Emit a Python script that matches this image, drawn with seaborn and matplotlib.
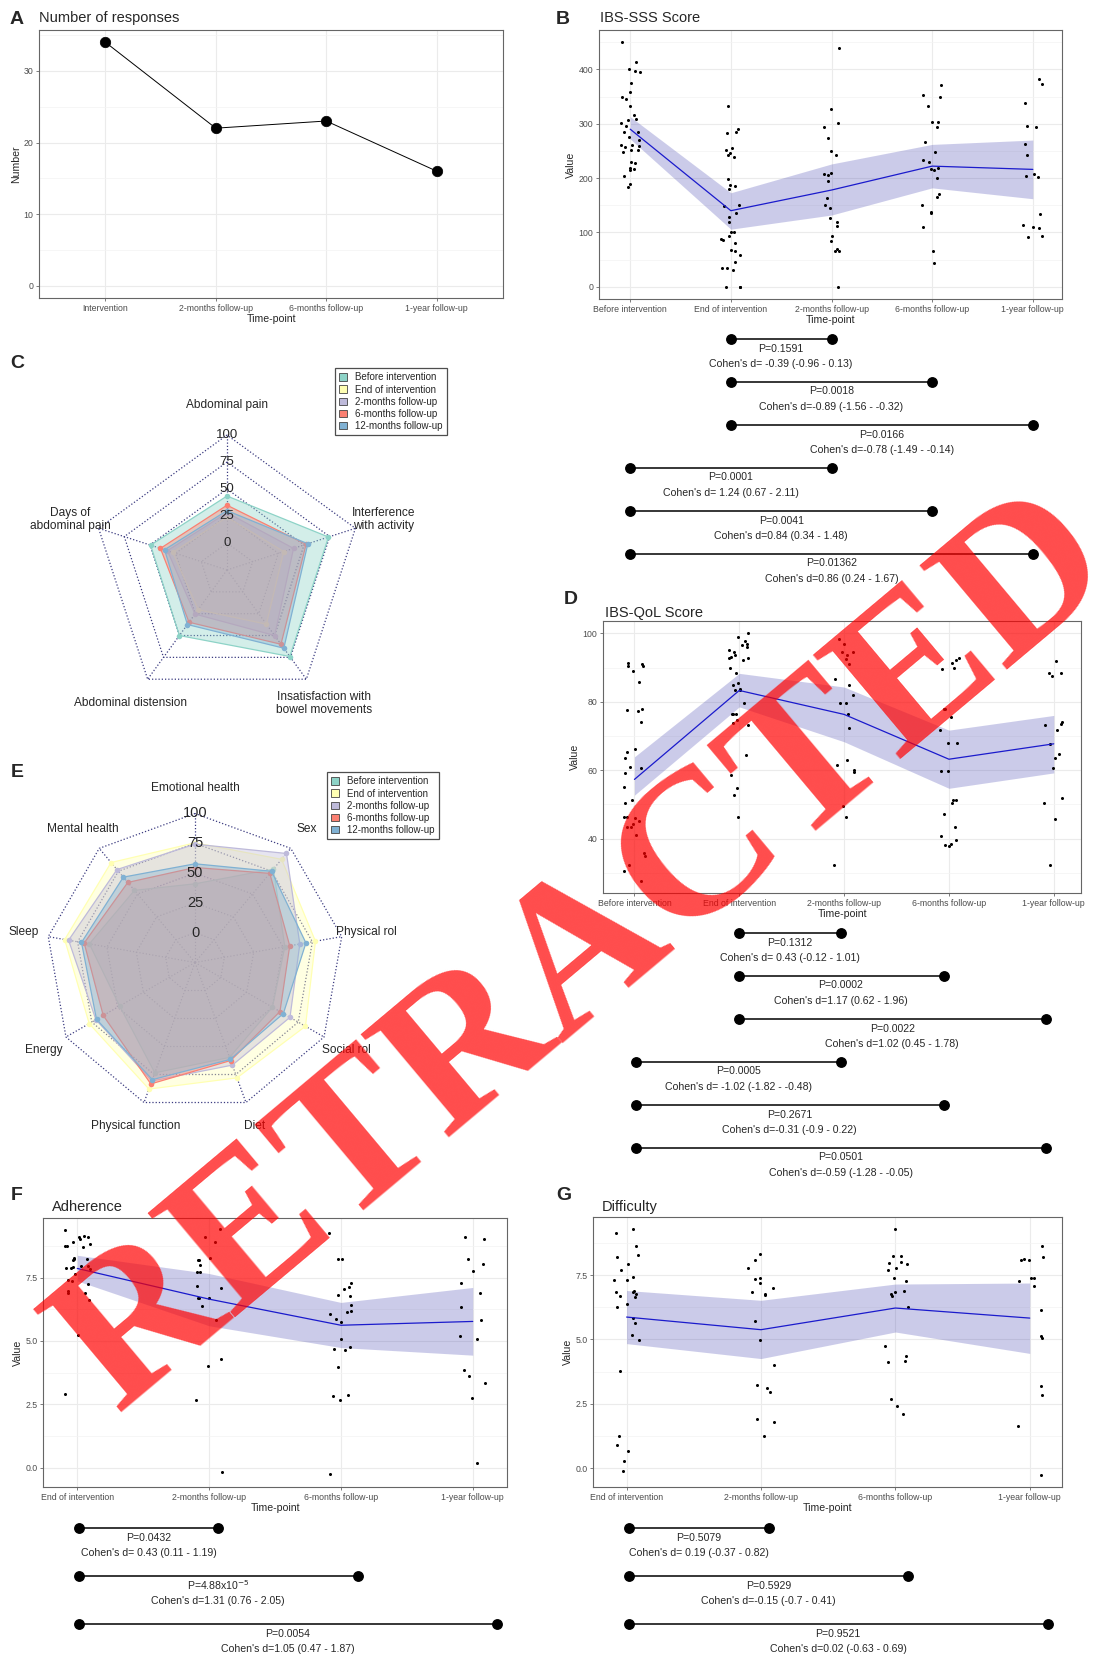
import numpy as np
import pandas as pd
import matplotlib
matplotlib.use("Agg")
import matplotlib.pyplot as plt
from matplotlib.patches import Patch
import seaborn as sns

sns.set_theme(style="white")
plt.rcParams['font.family'] = ['Liberation Sans', 'DejaVu Sans']
np.random.seed(7)

W, H = 1099, 1659

# ---------------- data ----------------
resp_labels = ["Intervention", "2-months follow-up", "6-months follow-up", "1-year follow-up"]
resp_n = [34, 22, 23, 16]

time5 = ["Before intervention", "End of intervention", "2-months follow-up",
         "6-months follow-up", "1-year follow-up"]
time4 = ["End of intervention", "2-months follow-up", "6-months follow-up", "1-year follow-up"]

# IBS-SSS
sss_before = [450, 413, 400, 397, 395, 375, 359, 350, 346, 333, 317, 309, 307, 302, 296, 285, 284,
              275, 270, 261, 260, 259, 258, 252, 251, 248, 229, 227, 217, 215, 204, 190, 183, 218]
sss_end = [333, 290, 284, 283, 255, 252, 247, 242, 238, 198, 187, 185, 179, 150, 148, 135, 128,
           120, 100, 100, 94, 88, 86, 80, 67, 66, 58, 45, 34, 34, 30, 0, 0, 0]
sss_2m = [440, 328, 301, 294, 274, 250, 243, 210, 208, 206, 194, 164, 151, 145, 127, 120, 112,
          94, 85, 69, 66, 66, 0]
sss_6m = [371, 352, 350, 333, 303, 303, 294, 266, 248, 233, 229, 218, 216, 215, 201, 170, 166,
          150, 137, 135, 110, 65, 44]
sss_1y = [383, 374, 338, 295, 294, 263, 243, 208, 204, 202, 133, 113, 110, 109, 93, 92]
sss_mean = [290, 140, 178, 222, 216]
sss_lo = [272, 106, 132, 182, 162]
sss_hi = [313, 173, 226, 262, 270]

# IBS-QoL
qol_before = [91.3, 90.9, 90.5, 90.5, 89, 85.9, 78, 77.5, 77.2, 74, 66.1, 65.3, 63.7, 60.9, 60.5,
              59.1, 55.1, 51.3, 50.5, 46.4, 46.2, 46, 45, 44.2, 43.3, 43.3, 41, 35.7, 34.8, 32.3,
              30.4, 27.7]
qol_end = [100, 99, 97.7, 96.9, 96.6, 95.9, 95.1, 94.5, 93.7, 93, 92.8, 92.7, 92.2, 89.9, 88.4,
           85.4, 85, 83.6, 83.5, 83.3, 79.6, 76.5, 76.5, 76.3, 74.6, 73.9, 73.1, 64.5, 58.5, 54.8,
           52.8, 46.4]
qol_2m = [98.2, 96.9, 94.5, 94.5, 93.8, 92.5, 91.1, 86.7, 85, 81.9, 79.6, 79.6, 76.3, 72.4, 63,
          61.5, 60, 59.4, 49.5, 46.4, 32.3]
qol_6m = [92.8, 92.2, 91.3, 89.8, 89.6, 78, 78, 75.5, 71.7, 67.8, 67.8, 59.8, 59.8, 51.3, 51.3,
          50.5, 47.2, 43.3, 40.9, 39.5, 38.4, 38.2, 37.9]
qol_1y = [91.8, 88.3, 88.3, 87.4, 74, 73.4, 73.1, 71.7, 67.7, 64.6, 63.7, 60.6, 52, 50.5, 45.6, 32.3]
qol_mean = [57.3, 83.3, 76.3, 63.2, 67.7]
qol_lo = [52.7, 78.5, 68.3, 54.7, 59.2]
qol_hi = [63.9, 88.3, 84.3, 71.7, 76]

# Adherence
adh_end = [9.37, 9.15, 9.12, 9.12, 9.04, 8.92, 8.82, 8.75, 8.75, 8.71, 8.29, 8.25, 8.23, 8.2, 7.94,
           7.94, 7.9, 7.88, 7.86, 7.83, 7.63, 7.4, 7.35, 7.23, 6.98, 6.91, 6.91, 6.62, 5.24, 2.9]
adh_2m = [9.41, 9.09, 8.91, 8.27, 8.2, 8.2, 7.98, 7.73, 7.73, 7.16, 7.1, 6.69, 6.68, 6.68, 6.39,
          5.81, 4.27, 4.02, 2.69, -0.18]
adh_6m = [9.25, 8.23, 8.23, 7.28, 7.11, 7.04, 6.83, 6.79, 6.41, 6.2, 6.16, 6.08, 5.87, 5.73, 5.07,
          4.77, 4.68, 4.65, 3.99, 2.86, 2.81, 2.68, -0.25]
adh_1y = [9.11, 9.01, 8.23, 8.02, 7.74, 7.27, 6.91, 6.33, 5.81, 5.19, 5.06, 3.84, 3.61, 3.34,
          2.75, 0.17]
adh_mean = [7.86, 6.65, 5.62, 5.77]
adh_lo = [7.37, 5.6, 4.74, 4.44]
adh_hi = [8.38, 7.66, 6.52, 7.11]

# Difficulty
dif_end = [9.3, 9.13, 8.64, 8.29, 8.2, 7.93, 7.68, 7.41, 7.32, 7.32, 6.88, 6.86, 6.83, 6.78, 6.68,
           6.65, 6.38, 6.26, 5.83, 5.64, 5.19, 4.98, 3.76, 1.27, 0.89, 0.66, 0.27, -0.09]
dif_2m = [8.33, 8.09, 7.77, 7.4, 7.36, 7.19, 7.0, 6.83, 6.78, 6.74, 5.72, 4.98, 4.01, 3.22, 3.13,
          2.98, 1.93, 1.81, 1.27]
dif_6m = [9.3, 8.23, 8.22, 8.0, 7.97, 7.93, 7.77, 7.7, 7.37, 7.26, 6.87, 6.83, 6.75, 6.7, 6.26,
          4.75, 4.35, 4.18, 4.11, 2.69, 2.41, 2.11]
dif_1y = [8.64, 8.19, 8.12, 8.07, 8.07, 7.37, 7.37, 7.28, 7.06, 6.15, 5.14, 5.06, 3.18, 2.86,
          1.63, -0.26]
dif_mean = [5.87, 5.38, 6.22, 5.83]
dif_lo = [4.84, 4.26, 5.29, 4.46]
dif_hi = [6.9, 6.52, 7.15, 7.19]

# pairwise tests
pairs5 = [(1, 2), (1, 3), (1, 4), (0, 2), (0, 3), (0, 4)]
sss_p = ["P=0.1591", "P=0.0018", "P=0.0166", "P=0.0001", "P=0.0041", "P=0.01362"]
sss_d = ["Cohen's d= -0.39 (-0.96 - 0.13)", "Cohen's d=-0.89 (-1.56 - -0.32)",
         "Cohen's d=-0.78 (-1.49 - -0.14)", "Cohen's d= 1.24 (0.67 - 2.11)",
         "Cohen's d=0.84 (0.34 - 1.48)", "Cohen's d=0.86 (0.24 - 1.67)"]
qol_p = ["P=0.1312", "P=0.0002", "P=0.0022", "P=0.0005", "P=0.2671", "P=0.0501"]
qol_d = ["Cohen's d= 0.43 (-0.12 - 1.01)", "Cohen's d=1.17 (0.62 - 1.96)",
         "Cohen's d=1.02 (0.45 - 1.78)", "Cohen's d= -1.02 (-1.82 - -0.48)",
         "Cohen's d=-0.31 (-0.9 - 0.22)", "Cohen's d=-0.59 (-1.28 - -0.05)"]
pairs4 = [(0, 1), (0, 2), (0, 3)]
adh_p = ["P=0.0432", r"P=4.88x10$^{-5}$", "P=0.0054"]
adh_d = ["Cohen's d= 0.43 (0.11 - 1.19)", "Cohen's d=1.31 (0.76 - 2.05)",
         "Cohen's d=1.05 (0.47 - 1.87)"]
dif_p = ["P=0.5079", "P=0.5929", "P=0.9521"]
dif_d = ["Cohen's d= 0.19 (-0.37 - 0.82)", "Cohen's d=-0.15 (-0.7 - 0.41)",
         "Cohen's d=0.02 (-0.63 - 0.69)"]

# radar charts
series_names = ["Before intervention", "End of intervention", "2-months follow-up",
                "6-months follow-up", "12-months follow-up"]
series_colors = ["#8DD3C7", "#FFFFB3", "#BEBADA", "#FB8072", "#80B1D3"]

sss_dims = ["Abdominal pain", "Days of\nabdominal pain", "Abdominal distension",
            "Insatisfaction with\nbowel movements", "Interference\nwith activity"]
sss_radar = [
    [43.5, 49.4, 50, 74, 73.8],
    [24, 27.8, 20.5, 37, 30.2],
    [28, 33, 25.4, 50, 39.8],
    [35, 39.8, 34.8, 60, 52],
    [30, 35.8, 37.4, 64.5, 53.7],
]
qol_dims = ["Emotional health", "Mental health", "Sleep", "Energy", "Physical function",
            "Diet", "Social rol", "Physical rol", "Sex"]
qol_radar = [
    [41, 54, 65, 48, 73.5, 59.7, 50, 51.5, 77.4],
    [75.4, 84.5, 86, 77.5, 88, 78, 82, 77.6, 88],
    [74.3, 76.8, 82.7, 71, 80.8, 66.6, 67, 64.3, 94.4],
    [54.7, 62.7, 69.4, 63.9, 83.4, 62.5, 57.3, 55.7, 72.6],
    [57.8, 68.5, 71.7, 70.4, 79.6, 61.5, 60.6, 69.5, 74.9],
]
radar_levels = [0, 25, 50, 75, 100]


# ---------------- helpers ----------------
def box(l, t, r, b):
    return [l / W, 1 - b / H, (r - l) / W, (b - t) / H]


fig = plt.figure(figsize=(W / 100, H / 100), dpi=100)
fig.patch.set_facecolor("white")


def style_panel(ax, xlabels, xlim, ylim, yticks, yminor, ylab, yfmt=None):
    ax.set_xlim(*xlim)
    ax.set_ylim(*ylim)
    ax.set_xticks(range(len(xlabels)))
    ax.set_xticklabels(xlabels, fontsize=6.3, color="#4d4d4d")
    ax.set_yticks(yticks)
    ax.set_yticklabels(yfmt if yfmt else [str(v) for v in yticks], fontsize=6.3, color="#4d4d4d")
    ax.set_yticks(yminor, minor=True)
    ax.grid(which="major", color="#ebebeb", lw=0.8)
    ax.grid(which="minor", axis="y", color="#f3f3f3", lw=0.5)
    ax.set_axisbelow(True)
    for s in ax.spines.values():
        s.set_color("#666666")
        s.set_linewidth(0.8)
    ax.tick_params(which="major", length=2.5, width=0.6, color="#666666", pad=1.5,
                   bottom=True, left=True)
    ax.tick_params(which="minor", length=0)
    ax.set_xlabel("Time-point", fontsize=7.6, labelpad=1)
    ax.set_ylabel(ylab, fontsize=7.6, labelpad=2)


def score_panel(px, groups, labels, mean, lo, hi, xlim, ylim, yticks, yminor, yfmt=None):
    ax = fig.add_axes(box(*px))
    df = pd.DataFrame({
        "time": np.concatenate([[lab] * len(g) for lab, g in zip(labels, groups)]),
        "value": np.concatenate(groups),
    })
    pos = np.arange(len(labels))
    ax.fill_between(pos, lo, hi, color="#3333aa", alpha=0.25, lw=0, zorder=2)
    sns.stripplot(data=df, x="time", y="value", order=labels, color="black", size=2.2,
                  jitter=0.1, linewidth=0, ax=ax, zorder=3)
    sns.lineplot(x=pos, y=mean, color="#1a1acc", lw=0.9, ax=ax, zorder=4)
    style_panel(ax, labels, xlim, ylim, yticks, yminor, "Value", yfmt)
    return ax


def stat_block(x0, dx, ncat, top, bottom, row0, drow, pairs, ptxt, dtxt):
    ax = fig.add_axes(box(x0 - 0.5 * dx, top, x0 + (ncat - 0.5) * dx, bottom))
    ax.set_xlim(-0.5, ncat - 0.5)
    ax.set_ylim(bottom, top)
    ax.axis("off")
    for i, ((a, b), p, d) in enumerate(zip(pairs, ptxt, dtxt)):
        y = row0 + i * drow
        ax.plot([a, b], [y, y], "-o", color="black", lw=1.1, ms=6.8, clip_on=False)
        ax.text((a + b) / 2, y + 9.5, p, ha="center", va="center", fontsize=7.6)
        ax.text((a + b) / 2, y + 25, d, ha="center", va="center", fontsize=7.6)


def radar(px, center, R, dims, series, label_r, dim_fs, lev_fs, legend_px):
    l, t, r, b = px
    cx, cy = center
    ax = fig.add_axes(box(l, t, r, b))
    ax.set_xlim((l - cx) / R, (r - cx) / R)
    ax.set_ylim((cy - b) / R, (cy - t) / R)
    ax.axis("off")
    n = len(dims)
    ang = np.pi / 2 + 2 * np.pi * np.arange(n) / n
    ca, sa = np.cos(ang), np.sin(ang)

    def ring(v):
        return 0.2 + 0.8 * np.asarray(v, dtype=float) / 100

    for lev in radar_levels:
        rr = ring(lev)
        ax.plot(np.append(rr * ca, rr * ca[0]), np.append(rr * sa, rr * sa[0]),
                ls=(0, (1, 1.6)), color="#3b3b80", lw=0.9, zorder=1)
    for c_, s_ in zip(ca, sa):
        ax.plot([0, c_], [0, s_], ls=(0, (1, 1.6)), color="#3b3b80", lw=0.9, zorder=1)
    for k, (vals, col) in enumerate(zip(series, series_colors)):
        rr = ring(vals)
        x, y = rr * ca, rr * sa
        ax.fill(x, y, color=col, alpha=0.38, lw=0, zorder=3 + k)
        ax.plot(np.append(x, x[0]), np.append(y, y[0]), color=col, lw=0.9, zorder=3 + k)
        ax.scatter(x, y, s=16, color=col, lw=0, zorder=3 + k)
    for lev in radar_levels:
        ax.text(0, ring(lev), str(lev), ha="center", va="center", fontsize=lev_fs, zorder=20)
    for d, c_, s_ in zip(dims, ca, sa):
        ax.text(label_r * c_, label_r * s_, d, ha="center", va="center", fontsize=dim_fs,
                linespacing=1.1)
    handles = [Patch(facecolor=c, edgecolor="#444444", lw=0.6) for c in series_colors]
    ll, lt = legend_px
    ax.legend(handles, series_names, loc="upper left", bbox_to_anchor=(ll / W, 1 - lt / H),
              bbox_transform=fig.transFigure, frameon=True, fancybox=False, edgecolor="#222222",
              fontsize=7, handlelength=0.8, handleheight=0.8, borderpad=0.45,
              labelspacing=0.22, handletextpad=0.8, borderaxespad=0)
    ax.get_legend().get_frame().set_linewidth(0.9)


# ---------------- A: responses ----------------
axA = fig.add_axes(box(39, 30, 503, 298))
sns.pointplot(x=resp_labels, y=resp_n, color="black", markersize=7.5, linewidth=0.7,
              errorbar=None, ax=axA)
style_panel(axA, resp_labels, (-0.6, 3.6), (-1.7, 35.7), [0, 10, 20, 30], [5, 15, 25, 35],
            "Number")

# ---------------- B: IBS-SSS ----------------
score_panel((599, 30, 1062, 299), [sss_before, sss_end, sss_2m, sss_6m, sss_1y], time5,
            sss_mean, sss_lo, sss_hi, (-0.31, 4.29), (-22.5, 472.5),
            [0, 100, 200, 300, 400], np.arange(50, 460, 100))
stat_block(630, 100.75, 5, 328, 590, 339, 43, pairs5, sss_p, sss_d)

# ---------------- D: IBS-QoL ----------------
score_panel((603, 621, 1081, 893), [qol_before, qol_end, qol_2m, qol_6m, qol_1y], time5,
            qol_mean, qol_lo, qol_hi, (-0.3, 4.26), (24.1, 103.6),
            [40, 60, 80, 100], [30, 50, 70, 90])
stat_block(636, 102.5, 5, 922, 1182, 933, 43, pairs5, qol_p, qol_d)

# ---------------- F: Adherence ----------------
fmt4 = ["0.0", "2.5", "5.0", "7.5"]
score_panel((43, 1218, 507, 1487), [adh_end, adh_2m, adh_6m, adh_1y], time4,
            adh_mean, adh_lo, adh_hi, (-0.26, 3.26), (-0.76, 9.85),
            [0, 2.5, 5, 7.5], [1.25, 3.75, 6.25, 8.75], fmt4)
stat_block(79, 139.3, 4, 1515, 1659, 1528, 48, pairs4, adh_p, adh_d)

# ---------------- G: Difficulty ----------------
score_panel((593, 1217, 1062, 1487), [dif_end, dif_2m, dif_6m, dif_1y], time4,
            dif_mean, dif_lo, dif_hi, (-0.25, 3.24), (-0.72, 9.75),
            [0, 2.5, 5, 7.5], [1.25, 3.75, 6.25, 8.75], fmt4)
stat_block(629, 139.5, 4, 1515, 1659, 1528, 48, pairs4, dif_p, dif_d)

# ---------------- C, E: radar charts ----------------
radar((0, 345, 470, 720), (227, 570), 135, sss_dims, sss_radar, 1.22, 8.6, 9.5, (335, 368))
radar((0, 760, 470, 1135), (195, 962.5), 149, qol_dims, qol_radar, 1.17, 8.6, 10.5, (327, 772))

# ---------------- titles & letters ----------------
titles = [("Number of responses", 39, 18), ("IBS-SSS Score", 600, 18), ("IBS-QoL Score", 605, 613),
          ("Adherence", 52, 1207), ("Difficulty", 602, 1207)]
for txt, x, y in titles:
    fig.text(x / W, 1 - y / H, txt, fontsize=10.5, ha="left", va="center")
letters = [("A", 17, 19), ("B", 563, 19), ("C", 17, 363), ("D", 571, 600), ("E", 17, 773),
           ("F", 17, 1196), ("G", 564, 1196)]
for txt, x, y in letters:
    fig.text(x / W, 1 - y / H, txt, fontsize=14, fontweight="bold", ha="center", va="center")

# retraction watermark
fig.text(586 / W, 1 - 955 / H, "RETRACTED", fontsize=150, fontweight="bold", rotation=40,
         rotation_mode="anchor", ha="center", va="center", color="red", alpha=0.7,
         family=["Liberation Serif", "DejaVu Serif"], zorder=100)

fig.savefig("out.png", dpi=100, facecolor="white")
